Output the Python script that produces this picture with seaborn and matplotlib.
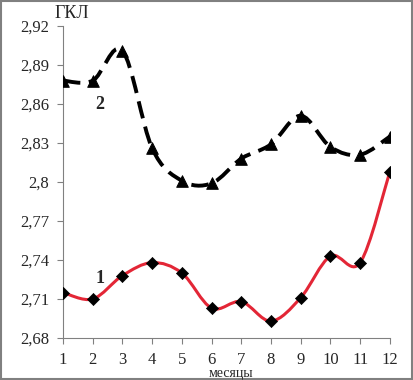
import numpy as np
import pandas as pd
import seaborn as sns
from matplotlib import pyplot as plt
from matplotlib.path import Path
from matplotlib.patches import PathPatch, Rectangle

sns.set_style('white')
plt.rcParams['font.family'] = ['Liberation Serif', 'DejaVu Serif']

months = list(range(1, 13))
series1 = [2.715, 2.710, 2.728, 2.738, 2.730, 2.703, 2.708, 2.693, 2.711, 2.743, 2.738, 2.808]
series2 = [2.878, 2.878, 2.901, 2.826, 2.801, 2.799, 2.818, 2.829, 2.851, 2.827, 2.821, 2.835]
yticks = [2.68, 2.71, 2.74, 2.77, 2.80, 2.83, 2.86, 2.89, 2.92]
ylabels = ['2,68', '2,71', '2,74', '2,77', '2,8', '2,83', '2,86', '2,89', '2,92']

df = pd.DataFrame({'month': months, 's1': series1, 's2': series2})


def smooth_path(x, y):
    # excel-like smoothed line: catmull-rom as cubic bezier segments
    x = np.asarray(x, float)
    y = np.asarray(y, float)
    verts = [(x[0], y[0])]
    codes = [Path.MOVETO]
    n = len(x)
    for i in range(n - 1):
        x0, y0 = (x[i - 1], y[i - 1]) if i > 0 else (x[i], y[i])
        x3, y3 = (x[i + 2], y[i + 2]) if i + 2 < n else (x[i + 1], y[i + 1])
        c1 = (x[i] + (x[i + 1] - x0) / 6, y[i] + (y[i + 1] - y0) / 6)
        c2 = (x[i + 1] - (x3 - x[i]) / 6, y[i + 1] - (y3 - y[i]) / 6)
        verts += [c1, c2, (x[i + 1], y[i + 1])]
        codes += [Path.CURVE4] * 3
    return Path(verts, codes)


fig = plt.figure(figsize=(4.13, 3.80), dpi=100)
ax = fig.add_axes([0.1525, 0.1105, 0.7915, 0.821])

ax.add_patch(PathPatch(smooth_path(df['month'], df['s1']), fill=False,
                       edgecolor='#e32636', lw=2.2, zorder=2))
ax.add_patch(PathPatch(smooth_path(df['month'], df['s2']), fill=False,
                       edgecolor='black', lw=2.8, linestyle=(0, (4.5, 2.2)),
                       zorder=2))
sns.scatterplot(data=df, x='month', y='s1', marker='D', color='black',
                s=38, edgecolor='black', ax=ax, zorder=3)
sns.scatterplot(data=df, x='month', y='s2', marker='^', color='black',
                s=70, edgecolor='black', ax=ax, zorder=3)

ax.set_xlim(1, 12)
ax.set_ylim(2.68, 2.92)
ax.set_xticks(months)
ax.set_xticklabels([str(m) for m in months], fontsize=12)
ax.set_yticks(yticks)
ax.set_yticklabels(ylabels, fontsize=12)
ax.set_xlabel('')
ax.set_ylabel('')
for s in ['top', 'right']:
    ax.spines[s].set_visible(False)
for s in ['left', 'bottom']:
    ax.spines[s].set_color('#808080')
    ax.spines[s].set_linewidth(0.8)
ax.tick_params(axis='both', direction='out', length=4, width=0.8,
               color='#808080', pad=6, left=True, bottom=True)

fig.text(72 / 413, 1 - 14 / 380, 'ГКЛ', fontsize=13, ha='center', va='center')
fig.text(231 / 413, 1 - 373 / 380, 'месяцы', fontsize=10, ha='center', va='center')
ax.text(2.25, 2.726, '1', fontsize=13, fontweight='bold', ha='center', va='center')
ax.text(2.25, 2.860, '2', fontsize=13, fontweight='bold', ha='center', va='center')

fig.patches.append(Rectangle((0.002, 0.002), 0.995, 0.995, transform=fig.transFigure,
                             fill=False, edgecolor='#808080', lw=1.5))

fig.savefig('out.png', dpi=100)
